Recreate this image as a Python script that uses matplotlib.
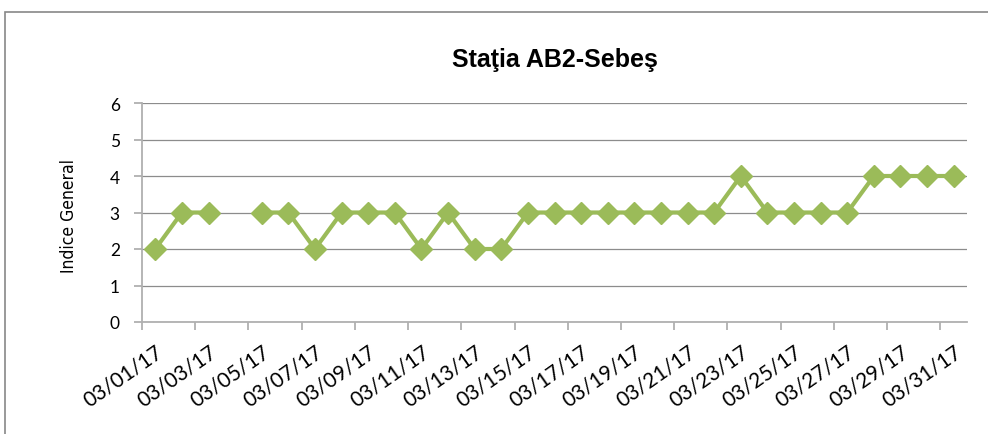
import numpy as np
import matplotlib.pyplot as plt
from matplotlib.patches import Rectangle

days = ['03/%02d/17' % d for d in range(1, 32)]
indice = [2, 3, 3, np.nan, 3, 3, 2, 3, 3, 3, 2, 3, 2, 2, 3, 3, 3, 3, 3, 3,
          3, 3, 4, 3, 3, 3, 3, 4, 4, 4, 4]
title = 'Staţia AB2-Sebeş'
ylabel = 'Indice General'

green = '#9BBB59'
grid_col = '#8c8c8c'
axis_col = '#b0b0b0'

fig = plt.figure(figsize=(9.88, 4.35), dpi=100)
fig.patches.append(Rectangle((5 / 988, -0.1), 1.2, 1 - 13 / 435 + 0.1,
                             transform=fig.transFigure, fill=False,
                             edgecolor='#888888', linewidth=1.2))

ax = fig.add_axes([142 / 988, 1 - 323 / 435, (967 - 142) / 988, (323 - 104) / 435])
x = np.arange(len(days))
ax.plot(x, indice, color=green, linewidth=3, marker='D', markersize=11,
        markeredgecolor=green, markerfacecolor=green)

ax.set_xlim(-0.5, len(days) - 0.5)
ax.set_ylim(0, 6)
ax.set_yticks(range(0, 7))
ax.yaxis.grid(True, color=grid_col, linewidth=0.9)
ax.set_axisbelow(True)
for s in ['top', 'right']:
    ax.spines[s].set_visible(False)
for s in ['left', 'bottom']:
    ax.spines[s].set_color(axis_col)
    ax.spines[s].set_linewidth(1.3)

ax.set_xticks(x[::2])
ax.set_xticklabels(days[::2], rotation=35, ha='right', va='top',
                   rotation_mode='anchor', fontsize=15, family='Lato')
ax.tick_params(axis='x', length=0, pad=14)
ax.set_xticks(np.arange(-0.5, len(days) - 1, 2), minor=True)
ax.tick_params(axis='x', which='minor', length=6, color=axis_col, width=1.3)
ax.tick_params(axis='y', length=6, color=axis_col, width=1.3, labelsize=12.5, pad=10)
for t in ax.get_yticklabels():
    t.set_family('Lato')

fig.text(555 / 988, 1 - 60 / 435, title, ha='center', va='center',
         fontsize=18, fontweight='bold', family='Liberation Sans')
fig.text(69 / 988, 1 - 216 / 435, ylabel, ha='center', va='center',
         rotation=90, fontsize=12.5, fontstretch='condensed',
         family=['Liberation Sans Narrow', 'DejaVu Sans'])

fig.savefig('out.png', dpi=100)
